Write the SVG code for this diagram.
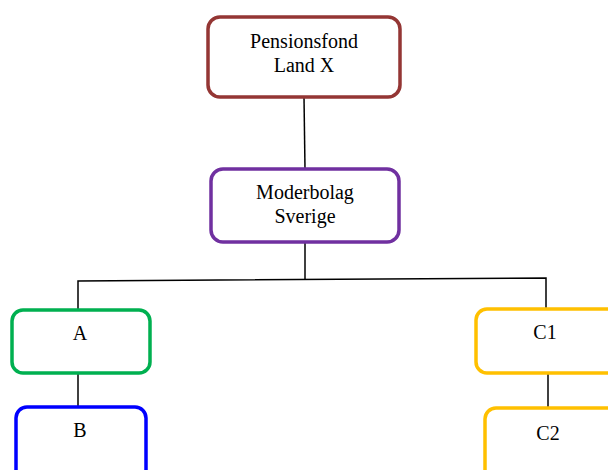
<svg xmlns="http://www.w3.org/2000/svg" width="608" height="470" viewBox="0 0 608 470">
<style>
.box{fill:#fff;stroke-width:3.5}
.t{font-family:"Liberation Serif",serif;font-size:20px;fill:#000;text-anchor:middle}
.c{stroke:#000;stroke-width:1.5;fill:none}
</style>
<rect width="608" height="470" fill="#fff"/>
<g id="connectors">
<line class="c" x1="304" y1="97" x2="305" y2="169"/>
<line class="c" x1="305" y1="242" x2="305" y2="279"/>
<polyline class="c" points="78,310 78,281 546,278 546,309"/>
<line class="c" x1="78" y1="373" x2="78" y2="407"/>
<line class="c" x1="548" y1="373" x2="548" y2="408"/>
</g>
<g id="pensionsfond">
<rect class="box" x="208" y="17" width="192" height="80" rx="12" stroke="#943634"/>
<text class="t" x="304" y="48">Pensionsfond</text>
<text class="t" x="304" y="72">Land X</text>
</g>
<g id="moderbolag">
<rect class="box" x="211" y="169" width="188" height="73" rx="12" stroke="#7030A0"/>
<text class="t" x="305" y="199">Moderbolag</text>
<text class="t" x="305" y="223">Sverige</text>
</g>
<g id="A">
<rect class="box" x="12" y="310" width="138" height="63" rx="11" stroke="#00B050"/>
<text class="t" x="80" y="340">A</text>
</g>
<g id="B">
<rect class="box" x="16" y="407" width="130" height="75" rx="11" stroke="#0000FF"/>
<text class="t" x="80" y="437">B</text>
</g>
<g id="C1">
<rect class="box" x="476" y="309" width="145" height="64" rx="11" stroke="#FFC000"/>
<text class="t" x="545" y="339">C1</text>
</g>
<g id="C2">
<rect class="box" x="485" y="408" width="136" height="75" rx="11" stroke="#FFC000"/>
<text class="t" x="548" y="440">C2</text>
</g>
</svg>
